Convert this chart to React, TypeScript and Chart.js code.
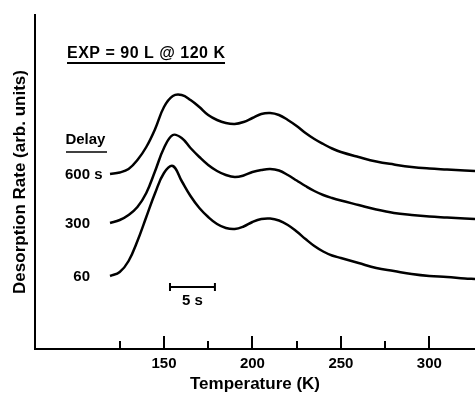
import { useEffect, useRef } from 'react';
import { Chart, registerables } from 'chart.js';

Chart.register(...registerables);

const FONT = '"Liberation Sans", Arial, Helvetica, sans-serif';

// Temperature (K) sample positions shared by all traces
const temperatures = [119.5, 125, 130, 135, 140, 145, 150, 155, 160, 165, 170, 175, 180, 185, 190, 195, 200, 205, 210, 215, 220, 225, 230, 235, 240, 245, 250, 260, 270, 280, 290, 300, 310, 320, 325.8];
// Desorption rate (arb. units, vertical offsets included) for each delay
const rate600 = [175, 176.5, 180, 189, 202, 220, 242, 253, 254, 249, 242, 234, 229, 226, 225, 227, 231, 235, 236, 234, 229, 223, 216, 210, 205, 200.5, 197, 192, 187.5, 184.5, 182, 180.5, 179.5, 178.5, 178];
const rate300 = [126, 129, 134, 142, 156, 178, 201, 214, 211, 201, 192, 184, 178, 174, 172, 173.5, 177, 179, 180, 178.5, 174, 168.5, 163, 158, 154, 151, 148.5, 144, 139.5, 136, 134, 132.5, 131.5, 130.5, 130];
const rate60 = [73, 77, 88, 108, 132, 156, 176, 183, 168, 153, 141, 132, 125, 121, 120, 122.5, 127, 130, 130.5, 128.5, 124, 117.5, 110, 103, 97.5, 93.5, 91, 86, 81, 78, 75, 73, 72, 70.5, 70];

const delays = ['600', '300', '60'];
const delayUnit = ' s';
const delayTitle = 'Delay';
const exposureLabel = 'EXP = 90 L @ 120 K';
const scaleBarLabel = '5 s';
const scaleBarTemps = [153.4, 178.8];
const scaleBarRate = 62;

const xTicks = [125, 150, 175, 200, 225, 250, 275, 300];
const xMin = 77.1;
const xMax = 325.8;
const yMin = 0;
const yMax = 334;

const seriesRates = [rate600, rate300, rate60];

const decorPlugin = {
  id: 'decor',
  afterDraw(chart: any) {
    const ctx = chart.ctx as CanvasRenderingContext2D;
    const xs = chart.scales.x;
    const ys = chart.scales.y;
    const area = chart.chartArea;
    const X = (v: number) => xs.getPixelForValue(v);
    const Y = (v: number) => ys.getPixelForValue(v);
    ctx.save();
    ctx.strokeStyle = '#000';
    ctx.fillStyle = '#000';
    ctx.lineCap = 'butt';

    // inward tick marks
    ctx.lineWidth = 2;
    xTicks.forEach((v) => {
      const px = Math.round(X(v));
      const len = v % 50 === 0 ? 13 : 8;
      ctx.beginPath();
      ctx.moveTo(px, area.bottom);
      ctx.lineTo(px, area.bottom - len);
      ctx.stroke();
    });

    // exposure label
    ctx.font = `bold 16px ${FONT}`;
    ctx.textAlign = 'left';
    ctx.textBaseline = 'alphabetic';
    (ctx as any).letterSpacing = '0.5px';
    const ex = X(95.2);
    ctx.fillText(exposureLabel, ex, Y(291.5));
    (ctx as any).letterSpacing = '0px';
    ctx.lineWidth = 2;
    ctx.beginPath();
    ctx.moveTo(ex, Y(286));
    ctx.lineTo(X(184.5), Y(286));
    ctx.stroke();

    // delay title
    ctx.font = `bold 15px ${FONT}`;
    ctx.fillText(delayTitle, X(94.3), Y(205));
    ctx.lineWidth = 1.5;
    ctx.beginPath();
    ctx.moveTo(X(94.6), Y(197));
    ctx.lineTo(X(117.8), Y(197));
    ctx.stroke();

    // curve labels
    ctx.textBaseline = 'middle';
    seriesRates.forEach((r, i) => {
      const lx = X(temperatures[0] - 11.3);
      const ly = Y(r[0]) + 1;
      ctx.textAlign = 'right';
      ctx.fillText(delays[i], lx, ly);
      if (i === 0) {
        ctx.textAlign = 'left';
        ctx.fillText(delayUnit, lx, ly);
      }
    });

    // scale bar
    const bx1 = X(scaleBarTemps[0]);
    const bx2 = X(scaleBarTemps[1]);
    const by = Y(scaleBarRate);
    ctx.lineWidth = 2;
    ctx.beginPath();
    ctx.moveTo(bx1, by);
    ctx.lineTo(bx2, by);
    ctx.moveTo(bx1, by - 4);
    ctx.lineTo(bx1, by + 4);
    ctx.moveTo(bx2, by - 4);
    ctx.lineTo(bx2, by + 4);
    ctx.stroke();
    ctx.textAlign = 'center';
    ctx.textBaseline = 'alphabetic';
    ctx.fillText(scaleBarLabel, (bx1 + bx2) / 2, by + 18);

    ctx.restore();
  },
};

export default function App() {
  const ref = useRef<HTMLCanvasElement | null>(null);

  useEffect(() => {
    const canvas = ref.current;
    if (!canvas) return;
    const chart = new Chart(canvas, {
      type: 'line',
      data: {
        datasets: seriesRates.map((r, i) => ({
          label: delays[i],
          data: temperatures.map((x, j) => ({ x, y: r[j] })),
          borderColor: '#000',
          borderWidth: 2.5,
          pointRadius: 0,
          fill: false,
          tension: 0.4,
        })),
      },
      options: {
        animation: false,
        responsive: false,
        layout: { padding: { top: 15, left: 0, right: 0, bottom: 0 } },
        plugins: { legend: { display: false }, tooltip: { enabled: false } },
        scales: {
          x: {
            type: 'linear',
            min: xMin,
            max: xMax,
            afterBuildTicks: (s: any) => {
              s.ticks = xTicks.map((v) => ({ value: v }));
            },
            afterFit: (s: any) => {
              s.height = 46;
            },
            grid: { display: false, drawTicks: false },
            border: { display: true, color: '#000', width: 2 },
            ticks: {
              autoSkip: false,
              maxRotation: 0,
              padding: 6,
              color: '#000',
              font: { family: FONT, size: 15, weight: 'bold' },
              callback: (v: any) => (Number(v) % 50 === 0 ? String(v) : ''),
            },
            title: {
              display: true,
              text: 'Temperature (K)',
              color: '#000',
              font: { family: FONT, size: 17, weight: 'bold' },
              padding: { top: 0, bottom: 0 },
            },
          },
          y: {
            type: 'linear',
            min: yMin,
            max: yMax,
            afterFit: (s: any) => {
              s.width = 35;
            },
            grid: { display: false, drawTicks: false },
            border: { display: true, color: '#000', width: 2 },
            ticks: { display: false },
            title: {
              display: true,
              text: 'Desorption Rate (arb. units)',
              color: '#000',
              font: { family: FONT, size: 17, weight: 'bold' },
              padding: { top: 10, bottom: 0 },
            },
          },
        },
      },
      plugins: [decorPlugin],
    });
    return () => chart.destroy();
  }, []);

  return (
    <div style={{ position: 'fixed', left: 0, top: 0, width: 475, height: 395, background: '#fff' }}>
      <canvas ref={ref} width={475} height={395} style={{ display: 'block' }} />
    </div>
  );
}
